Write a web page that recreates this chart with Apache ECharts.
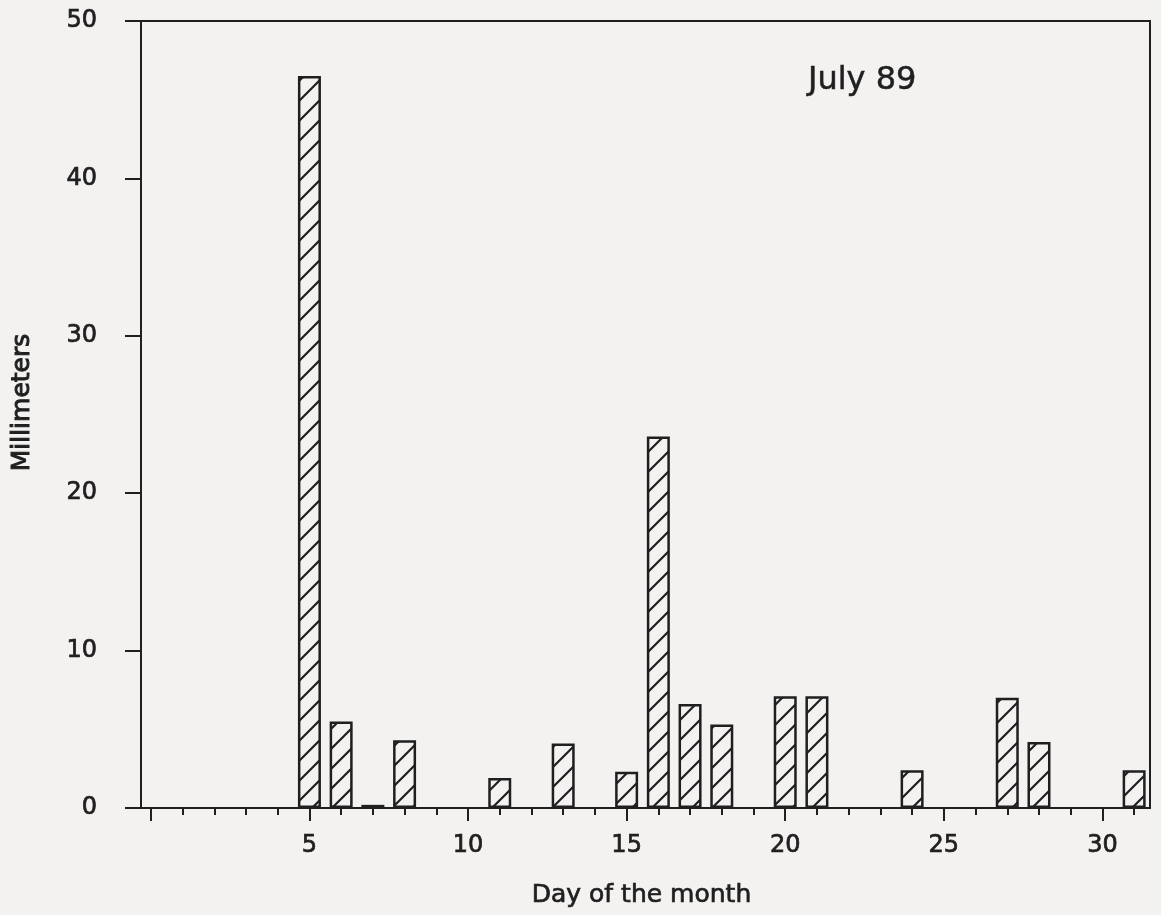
<!DOCTYPE html>
<html>
<head>
<meta charset="utf-8">
<script src="https://cdn.jsdelivr.net/npm/echarts@6/dist/echarts.min.js"></script>
<style>
  html, body { margin: 0; padding: 0; background: #f4f2f1; }
  #chart { width: 1161px; height: 915px; }
</style>
</head>
<body>
<div id="chart"></div>
<script>
// Days of July 1989 with rainfall, and the rainfall in millimeters
const days = [5, 6, 7, 8, 11, 13, 15, 16, 17, 18, 20, 21, 24, 27, 28, 31];
const rainfallMm = [46.5, 5.5, 0.2, 4.3, 1.9, 4.1, 2.3, 23.6, 6.6, 5.3, 7.1, 7.1, 2.4, 7.0, 4.2, 2.4];
// Axis ticks and labels
const minorTickDays = [0, 1, 2, 3, 4, 5, 6, 7, 8, 9, 10, 11, 12, 13, 14, 15, 16, 17, 18, 19, 20, 21, 22, 23, 24, 25, 26, 27, 28, 29, 30, 31];
const majorTickDays = [0, 5, 10, 15, 20, 25, 30];
const labelDays = [5, 10, 15, 20, 25, 30];

const INK = '#1f1f1f';
const FONT = 'DejaVu Sans';
const textBold = { textBorderColor: INK, textBorderWidth: 0.7 };

// hatch pattern "/"
const tile = document.createElement('canvas');
tile.width = 20; tile.height = 20;
const ctx = tile.getContext('2d');
ctx.strokeStyle = INK;
ctx.lineWidth = 2.2;
ctx.beginPath();
ctx.moveTo(-10, 10); ctx.lineTo(10, -10);
ctx.moveTo(0, 20); ctx.lineTo(20, 0);
ctx.moveTo(10, 30); ctx.lineTo(30, 10);
ctx.stroke();

const chart = echarts.init(document.getElementById('chart'));
const xRange = { min: -0.31, max: 31.5 };

chart.setOption({
  backgroundColor: '#f4f2f1',
  animation: false,
  title: {
    text: 'July 89',
    left: 803,
    top: 60,
    textStyle: Object.assign({ fontFamily: FONT, fontSize: 32, fontWeight: 'normal', color: INK }, { textBorderColor: INK, textBorderWidth: 0.5 })
  },
  grid: {
    left: 141, right: 11, top: 21, bottom: 107,
    show: true, borderColor: INK, borderWidth: 2, backgroundColor: 'transparent'
  },
  xAxis: [
    {
      type: 'value', min: xRange.min, max: xRange.max, position: 'bottom',
      name: 'Day of the month', nameLocation: 'middle', nameGap: 75,
      nameTextStyle: Object.assign({ fontFamily: FONT, fontSize: 25, color: INK, padding: [0, 8, 0, 0] }, textBold),
      axisLine: { show: true, lineStyle: { color: INK, width: 2 } },
      axisTick: { show: true, customValues: minorTickDays, length: 7, lineStyle: { color: INK, width: 2 } },
      axisLabel: { show: false },
      splitLine: { show: false }
    },
    {
      type: 'value', min: xRange.min, max: xRange.max, position: 'bottom', offset: 0,
      axisLine: { show: false },
      axisTick: { show: true, customValues: majorTickDays, length: 13, lineStyle: { color: INK, width: 2 } },
      axisLabel: Object.assign({ show: true, customValues: labelDays, margin: 26, fontFamily: FONT, fontSize: 24, color: INK }, textBold),
      splitLine: { show: false }
    }
  ],
  yAxis: {
    type: 'value', min: 0, max: 50, interval: 10,
    name: 'Millimeters', nameLocation: 'middle', nameGap: 106, nameRotate: 90,
    nameTextStyle: Object.assign({ fontFamily: FONT, fontSize: 25, color: INK, padding: [0, 0, 0, 24] }, { textBorderColor: INK, textBorderWidth: 1 }),
    axisLine: { show: true, onZero: false, lineStyle: { color: INK, width: 2 } },
    axisTick: { show: true, length: 16, lineStyle: { color: INK, width: 2 } },
    axisLabel: Object.assign({ margin: 44, fontFamily: FONT, fontSize: 24, color: INK }, textBold),
    splitLine: { show: false }
  },
  series: [{
    type: 'bar',
    xAxisIndex: 0,
    barWidth: 23,
    data: days.map((d, i) => [d, rainfallMm[i]]),
    itemStyle: {
      color: { image: tile, repeat: 'repeat' },
      borderColor: INK,
      borderWidth: 2.5
    }
  }]
});
</script>
</body>
</html>
